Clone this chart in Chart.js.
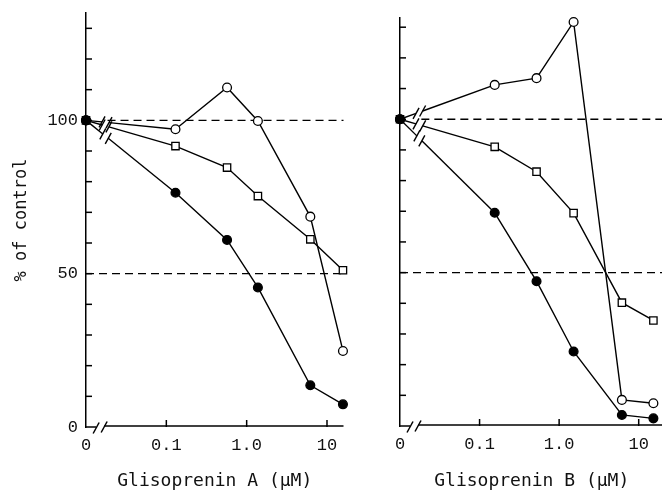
<!DOCTYPE html>
<html>
<head>
<meta charset="utf-8">
<script src="https://cdn.jsdelivr.net/npm/chart.js@4.4.0/dist/chart.umd.min.js"></script>
<style>
  html, body { margin: 0; padding: 0; background: #fff; overflow: hidden; width: 662px; height: 490px; position: relative; }
  #wrapA { position: absolute; left: 0; top: 0; width: 350px; height: 490px; }
  #wrapB { position: absolute; left: 350px; top: 0; width: 320px; height: 490px; }
</style>
</head>
<body>
<div id="wrapA"><canvas id="chartA"></canvas></div>
<div id="wrapB"><canvas id="chartB"></canvas></div>
<script>
// "0" is drawn at this spot on the log axis, left of the break
const ZERO_POS = 0.01;
const AXIS_BREAK = 0.015;
const LINE_BREAK = 0.0175;

const xTickValues = [0, 0.1, 1, 10];
const yLabelValues = [0, 50, 100];
const refLines = [100, 50];

// Glisoprenin A (µM) and % of control
const concA = [0, 0.13, 0.57, 1.38, 6.2, 15.8];
const filledA = [100, 76.4, 61, 45.5, 13.6, 7.4];
const squareA = [100, 91.6, 84.6, 75.3, 61.2, 51.1];
const openA = [100, 97.1, 110.7, 99.8, 68.6, 24.8];

// Glisoprenin B (µM)
const concB = [0, 0.155, 0.52, 1.52, 6.15, 15.3];
const filledB = [100, 69.5, 47.2, 24.3, 3.6, 2.5];
const squareB = [100, 91.0, 82.9, 69.4, 40.2, 34.4];
const openB = [100, 111.2, 113.4, 131.7, 8.5, 7.4];

const toX = c => (c === 0 ? ZERO_POS : c);
const pts = (xs, ys) => xs.map((c, i) => ({ x: toX(c), y: ys[i] }));

const series = (xs, ys, kind) => ({
  data: pts(xs, ys),
  borderColor: '#000',
  borderWidth: 1.4,
  tension: 0,
  clip: false,
  pointStyle: kind === 'square' ? 'rect' : 'circle',
  pointRadius: kind === 'square' ? 5.2 : 4.4,
  pointBorderWidth: 1.3,
  pointBorderColor: '#000',
  pointBackgroundColor: kind === 'filled' ? '#000' : '#fff',
  // first segment is drawn by the plugin, with its break
  segment: { borderColor: ctx => (ctx.p0DataIndex === 0 ? 'rgba(0,0,0,0)' : undefined) }
});

const line = (ctx, x1, y1, x2, y2) => {
  ctx.beginPath(); ctx.moveTo(x1, y1); ctx.lineTo(x2, y2); ctx.stroke();
};
const slash = (ctx, cx, cy) => line(ctx, cx - 3, cy + 5.5, cx + 3, cy - 5.5);

const breaks = {
  id: 'breaks',
  beforeDatasetsDraw(chart) {
    const { ctx, chartArea: a, scales: { x, y } } = chart;
    ctx.save();
    ctx.strokeStyle = '#000';
    ctx.lineWidth = 1.3;

    // dashed 100 % and 50 % lines
    ctx.setLineDash([8, 5]);
    refLines.forEach(v => {
      const py = y.getPixelForValue(v);
      const x0 = v === 100 ? x.getPixelForValue(LINE_BREAK) + 2 : a.left;
      line(ctx, x0, py, a.right, py);
    });
    ctx.setLineDash([]);

    // x axis with its break
    ctx.lineWidth = 1.5;
    const ax = x.getPixelForValue(AXIS_BREAK);
    line(ctx, a.left, a.bottom, ax - 4, a.bottom);
    line(ctx, ax + 4, a.bottom - 1, a.right, a.bottom - 1);
    slash(ctx, ax - 4, a.bottom + 1);
    slash(ctx, ax + 4, a.bottom);

    // inward tick marks
    y.ticks.forEach(t => {
      if (t.value > 0 && t.value % 10 === 0) {
        const py = y.getPixelForValue(t.value);
        line(ctx, a.left, py, a.left + 6, py);
      }
    });
    xTickValues.filter(v => v > 0).forEach(v => {
      const px = x.getPixelForValue(v);
      line(ctx, px, a.bottom, px, a.bottom - 7);
    });

    // first segment of each series, broken
    ctx.lineWidth = 1.4;
    const bx = x.getPixelForValue(LINE_BREAK);
    chart.data.datasets.forEach((ds, i) => {
      const meta = chart.getDatasetMeta(i);
      const p0 = meta.data[0], p1 = meta.data[1];
      const t = (bx - p0.x) / (p1.x - p0.x);
      const by = p0.y + t * (p1.y - p0.y);
      const len = Math.hypot(p1.x - p0.x, p1.y - p0.y);
      const ux = (p1.x - p0.x) / len, uy = (p1.y - p0.y) / len;
      const g = 3.5;
      line(ctx, p0.x, p0.y, bx - ux * g, by - uy * g);
      line(ctx, bx + ux * g, by + uy * g, p1.x, p1.y);
      slash(ctx, bx - ux * g, by - uy * g);
      slash(ctx, bx + ux * g, by + uy * g);
    });
    ctx.restore();
  }
};

const tickFont = { family: '"Liberation Mono", monospace', size: 17 };
const titleFont = { family: '"DejaVu Sans Mono", monospace', size: 18, lineHeight: 1 };

function makeChart(id, xs, filled, square, open, opts) {
  return new Chart(document.getElementById(id), {
    type: 'line',
    data: {
      datasets: [
        series(xs, filled, 'filled'),
        series(xs, square, 'square'),
        series(xs, open, 'open')
      ]
    },
    options: {
      responsive: true,
      maintainAspectRatio: false,
      animation: false,
      layout: { padding: { top: opts.top, right: opts.right, left: 0, bottom: 0 } },
      plugins: { legend: { display: false }, tooltip: { enabled: false } },
      scales: {
        x: {
          type: 'logarithmic',
          min: ZERO_POS,
          max: opts.xMax,
          grid: { display: false, drawTicks: false },
          border: { display: false },
          afterBuildTicks: s => { s.ticks = xTickValues.map(v => ({ value: toX(v) })); },
          afterFit: s => { s.height = opts.xHeight; },
          ticks: {
            autoSkip: false,
            maxRotation: 0,
            padding: 8,
            color: '#111',
            font: tickFont,
            callback: v => (v === ZERO_POS ? '0' : v === 1 ? '1.0' : String(v))
          },
          title: {
            display: true,
            text: opts.xTitle,
            color: '#111',
            font: titleFont,
            padding: { top: 0, bottom: 0 }
          }
        },
        y: {
          min: 0,
          max: opts.yMax,
          grid: { display: false, drawTicks: false },
          border: { display: true, color: '#000', width: 1.5 },
          afterFit: s => { s.width = opts.yWidth; },
          ticks: {
            stepSize: 10,
            padding: 8,
            color: '#111',
            font: { family: '"Liberation Mono", monospace', size: 17, lineHeight: 0.5 },
            callback: v => (opts.yLabels && yLabelValues.includes(v) ? String(v) : '')
          },
          title: {
            display: opts.yLabels,
            text: '% of control',
            color: '#111',
            font: { family: '"DejaVu Sans Mono", monospace', size: 17, lineHeight: 1 },
            padding: { top: 13.5, bottom: 0 }
          }
        }
      }
    },
    plugins: [breaks]
  });
}

makeChart('chartA', concA, filledA, squareA, openA, {
  top: 13, right: 5, xHeight: 63, yWidth: 86, xMax: 16.05, yMax: 135,
  yLabels: true, xTitle: 'Glisoprenin A (\u03bcM)'
});
makeChart('chartB', concB, filledB, squareB, openB, {
  top: 18, right: 0, xHeight: 64, yWidth: 50, xMax: 20.5, yMax: 133,
  yLabels: false, xTitle: 'Glisoprenin B (\u03bcM)'
});
</script>
</body>
</html>
